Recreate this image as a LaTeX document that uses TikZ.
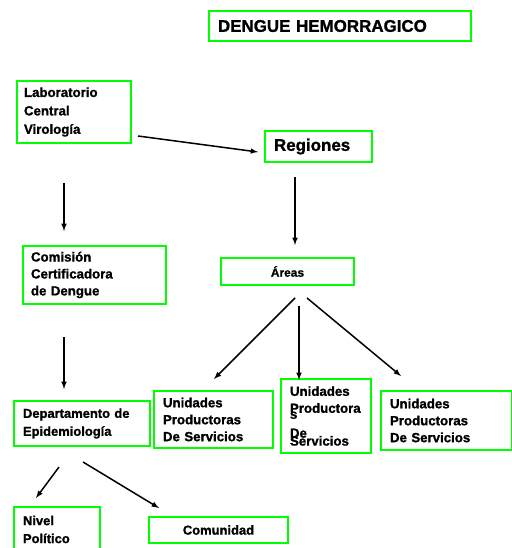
\documentclass[tikz,border=0pt]{standalone}
\usepackage{fontspec}
\setmainfont{Liberation Sans}[BoldFeatures={FakeBold=1.2}]
\usetikzlibrary{arrows}

\tikzset{
  caja/.style={draw=green, line width=2pt, rectangle, anchor=north west, inner xsep=7bp, inner ysep=0bp, align=left,
    font=\bfseries\fontsize{13}{18}\selectfont},
  flecha/.style={-latex, line width=1.5pt, black}
}

\begin{document}
\begin{tikzpicture}[x=1bp,y=1bp,yscale=-1,xscale=1]
\useasboundingbox (0,0) rectangle (512,548);

%Title
\node[caja, minimum width=262bp, minimum height=30bp, text width=244bp, inner xsep=9bp, font=\bfseries\fontsize{17}{19}\selectfont] (titulo) at (208,10) {DENGUE HEMORRAGICO};

%Left column
\node[caja, minimum width=114bp, minimum height=62bp, text width=100bp, font=\bfseries\fontsize{13.3}{18.5}\selectfont] (lab) at (16,80) {Laboratorio\\Central\\Virología};
\node[caja, minimum width=143bp, minimum height=58bp, text width=127bp, inner xsep=8bp, font=\bfseries\fontsize{13.3}{17}\selectfont] (comision) at (22,245) {Comisión\\Certificadora\\de Dengue};
\node[caja, minimum width=136bp, minimum height=45bp, text width=118bp, inner xsep=9bp] (depto) at (13,400) {Departamento de\\Epidemiología};
\node[caja, minimum width=86bp, minimum height=45bp, text width=68bp, inner xsep=9bp] (nivel) at (13,506) {Nivel\\Político};
\node[caja, minimum width=139bp, minimum height=26bp, align=center, text width=125bp] (comunidad) at (148,516) {Comunidad};

%Right column
\node[caja, minimum width=107bp, minimum height=31bp, text width=89bp, inner xsep=9bp, font=\bfseries\fontsize{17}{19}\selectfont] (regiones) at (264,130) {Regiones};
\node[caja, minimum width=133bp, minimum height=27bp, align=center, text width=119bp, font=\bfseries\fontsize{12}{14}\selectfont] (areas) at (220,257) {Áreas};
\node[caja, minimum width=119bp, minimum height=57bp, text width=101bp, inner xsep=9bp, font=\bfseries\fontsize{13.3}{17}\selectfont] (unidad1) at (153,390) {Unidades\\Productoras\\De Servicios};
\node[caja, minimum width=90bp, minimum height=74bp, text width=72bp, inner xsep=9bp, font=\bfseries\fontsize{13.3}{17}\selectfont] (unidad2) at (280,378) {Unidades\\Productora\\[-11bp]s\\[2bp]De\\[-9bp]Servicios};
\node[caja, minimum width=131bp, minimum height=59bp, text width=113bp, inner xsep=9bp, font=\bfseries\fontsize{13.3}{17}\selectfont] (unidad3) at (380,390) {Unidades\\Productoras\\De Servicios};

%Arrow ends
\coordinate (a1) at (138,136);
\coordinate (a2) at (258,152);
\coordinate (b1) at (64,183);
\coordinate (b2) at (64,231);
\coordinate (c1) at (64,337);
\coordinate (c2) at (64,389);
\coordinate (d1) at (295,177);
\coordinate (d2) at (295,245);
\coordinate (e1) at (295,298);
\coordinate (e2) at (214,379);
\coordinate (f1) at (299,306);
\coordinate (f2) at (299,380);
\coordinate (g1) at (307,298);
\coordinate (g2) at (401,376);
\coordinate (h1) at (59,467);
\coordinate (h2) at (36,498);
\coordinate (k1) at (83,462);
\coordinate (k2) at (159,508);

\draw[flecha] (a1) -- (a2);
\draw[flecha] (b1) -- (b2);
\draw[flecha] (c1) -- (c2);
\draw[flecha] (d1) -- (d2);
\draw[flecha] (e1) -- (e2);
\draw[flecha] (f1) -- (f2);
\draw[flecha] (g1) -- (g2);
\draw[flecha] (h1) -- (h2);
\draw[flecha] (k1) -- (k2);

\end{tikzpicture}
\end{document}
